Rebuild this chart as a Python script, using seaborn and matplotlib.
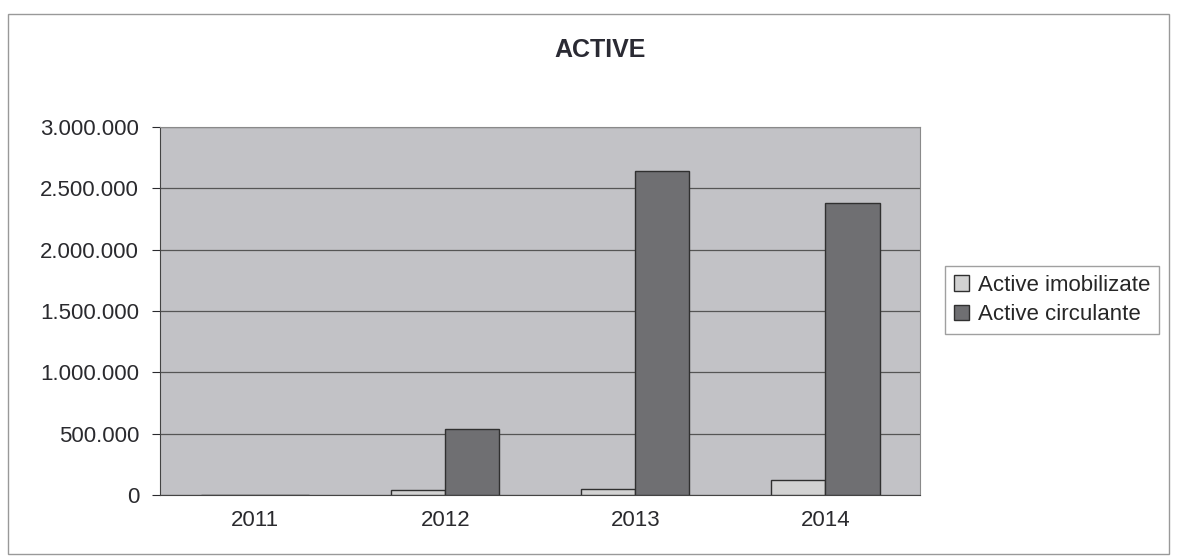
import matplotlib
matplotlib.use('Agg')
import matplotlib.pyplot as plt
import matplotlib.patches as mpatches
from matplotlib.ticker import FuncFormatter
import seaborn as sns
import pandas as pd

years = ['2011', '2012', '2013', '2014']
active_imobilizate = [0, 40000, 50000, 120000]
active_circulante = [0, 540000, 2640000, 2380000]
series_names = ['Active imobilizate', 'Active circulante']
y_ticks = [0, 500000, 1000000, 1500000, 2000000, 2500000, 3000000]

df = pd.DataFrame({
    'an': years * 2,
    'valoare': active_imobilizate + active_circulante,
    'serie': [series_names[0]] * 4 + [series_names[1]] * 4,
})

sns.set_style('white')
plt.rcParams['font.family'] = ['Liberation Sans', 'DejaVu Sans']

fig = plt.figure(figsize=(11.77, 5.6), dpi=100)
ax = fig.add_axes([0.136, 0.116, 0.646, 0.657])
ax.set_facecolor('#c2c2c6')

palette = {series_names[0]: '#d2d2d2', series_names[1]: '#6f6f72'}
sns.barplot(data=df, x='an', y='valoare', hue='serie', palette=palette,
            width=0.57, gap=0, edgecolor='#303030', linewidth=1.0,
            saturation=1, ax=ax, zorder=3)

# grid lines like the old excel chart
ax.set_ylim(0, 3000000)
ax.set_yticks(y_ticks)
ax.yaxis.set_major_formatter(FuncFormatter(lambda v, p: f'{int(v):,}'.replace(',', '.')))
ax.grid(axis='y', color='#555555', linewidth=0.9, zorder=0)
ax.set_axisbelow(True)
for s in ['top', 'right']:
    ax.spines[s].set_color('#8a8a8a')
for s in ['left', 'bottom']:
    ax.spines[s].set_color('#444444')
ax.tick_params(axis='y', labelsize=16, colors='#2a2a2e', length=6, left=True, width=0.8, pad=9)
ax.tick_params(axis='x', labelsize=16, colors='#2a2a2e', pad=11, length=0)
ax.set_xlabel('')
ax.set_ylabel('')

fig.text(0.51, 0.91, 'ACTIVE', fontsize=18, fontweight='bold', color='#2a2a33',
         ha='center', va='center')

handles, labels = ax.get_legend_handles_labels()
ax.legend(handles, labels, loc='center left', bbox_to_anchor=(1.032, 0.53),
          fontsize=16, frameon=True, fancybox=False, edgecolor='#888888',
          handlelength=0.7, handleheight=0.7, handletextpad=0.4,
          borderpad=0.4, labelspacing=0.4, borderaxespad=0)

fig.add_artist(mpatches.Rectangle((0.007, 0.01), 0.986, 0.965, transform=fig.transFigure,
                                  fill=False, edgecolor='#999999', linewidth=1))

fig.savefig('out.png', dpi=100, facecolor='white')
